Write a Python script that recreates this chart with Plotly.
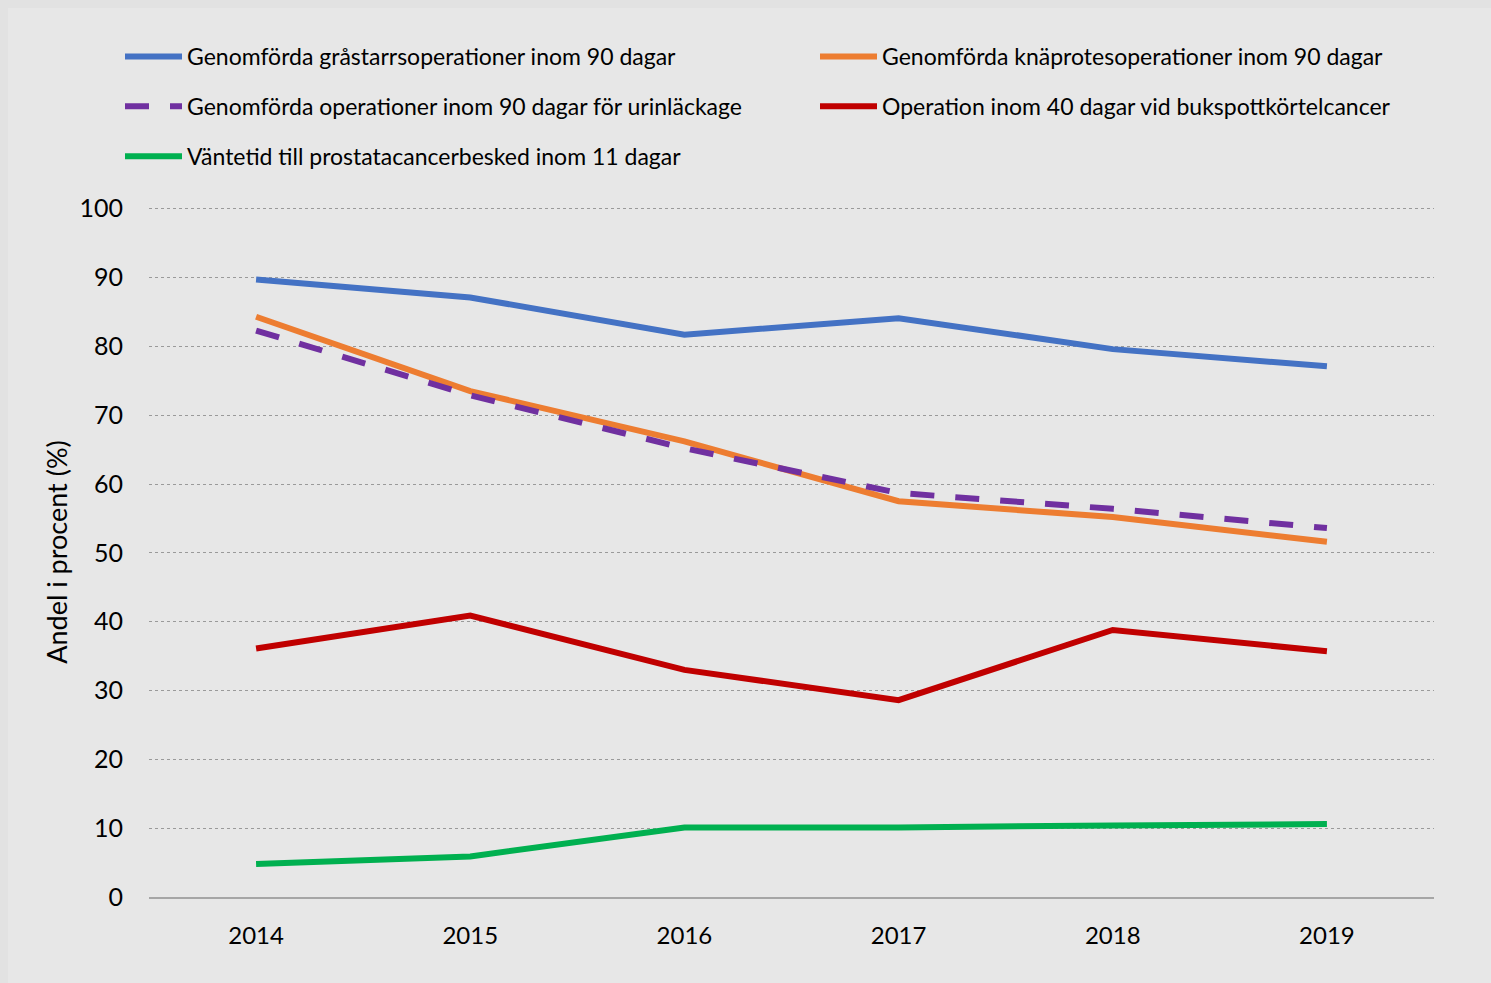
import plotly.graph_objects as go

# Data
years = ['2014', '2015', '2016', '2017', '2018', '2019']
grastarr = [89.7, 87.1, 81.7, 84.1, 79.6, 77.1]
knaprotes = [84.3, 73.5, 66.2, 57.5, 55.2, 51.6]
urinlackage = [82.3, 72.9, 65.2, 58.7, 56.4, 53.6]
bukspott = [36.1, 40.9, 33.0, 28.6, 38.8, 35.7]
prostata = [4.8, 5.9, 10.1, 10.1, 10.4, 10.6]

names = ['Genomförda gråstarrsoperationer inom 90 dagar',
         'Genomförda knäprotesoperationer inom 90 dagar',
         'Genomförda operationer inom 90 dagar för urinläckage',
         'Operation inom 40 dagar vid bukspottkörtelcancer',
         'Väntetid till prostatacancerbesked inom 11 dagar']
colors = ['#4472C4', '#ED7D31', '#7030A0', '#C00000', '#00B050']
series = [grastarr, knaprotes, urinlackage, bukspott, prostata]
# which legend column each series sits in
legends = ['legend', 'legend2', 'legend', 'legend2', 'legend']

FONT = 'Lato'

fig = go.Figure()
for i, (name, vals) in enumerate(zip(names, series)):
    fig.add_trace(go.Scatter(
        x=years, y=vals, name=name, mode='lines',
        line=dict(color=colors[i], width=6,
                  dash='24px,21px' if i == 2 else 'solid'),
        legend=legends[i], legendgroup=str(i),
    ))

# plot area in pixels: x 149..1434, y 207..897
W, H = 1491, 983
L, R, T, B = 149, 57, 207, 86
pw = W - L - R
ph = H - T - B

def px_x(p):
    return (p - L) / pw

def px_y(p):
    return (H - B - p) / ph

legend_style = dict(
    orientation='v', xanchor='left', yanchor='top',
    xref='paper', yref='paper',
    font=dict(family=FONT, size=23, color='#000000'),
    bgcolor='rgba(0,0,0,0)', tracegroupgap=17,
    itemclick=False, itemwidth=57,
)

fig.update_layout(
    width=W, height=H,
    margin=dict(l=L, r=R, t=T, b=B),
    paper_bgcolor='#e2e2e2',
    plot_bgcolor='#e7e7e7',
    font=dict(family=FONT, color='#000000'),
    showlegend=True,
    legend=dict(legend_style, x=px_x(120), y=px_y(35)),
    legend2=dict(legend_style, x=px_x(815), y=px_y(35)),
    shapes=[dict(type='rect', xref='paper', yref='paper', layer='below',
                 x0=px_x(8), x1=px_x(W + 10), y0=px_y(H + 10), y1=px_y(8),
                 fillcolor='#e7e7e7', line=dict(width=0))],
)

fig.update_xaxes(
    type='category', range=[-0.5, 5.5],
    showgrid=False, zeroline=False,
    showline=True, linecolor='#a6a6a6', linewidth=2,
    ticks='', ticklabelstandoff=16,
    tickfont=dict(family=FONT, size=24, color='#000000'),
)
fig.update_yaxes(
    range=[0, 100.25], dtick=10,
    showgrid=True, gridcolor='#9a9a9a', griddash='dot', gridwidth=1,
    zeroline=False, showline=False,
    ticks='', ticklabelstandoff=25,
    tickfont=dict(family=FONT, size=25, color='#000000'),
    title=dict(text='Andel i procent (%)', standoff=4,
               font=dict(family=FONT, size=27, color='#000000')),
)

fig.write_html('out.html', config={'displayModeBar': False},
               post_script="document.body.style.margin='0';document.body.style.overflow='hidden';")
